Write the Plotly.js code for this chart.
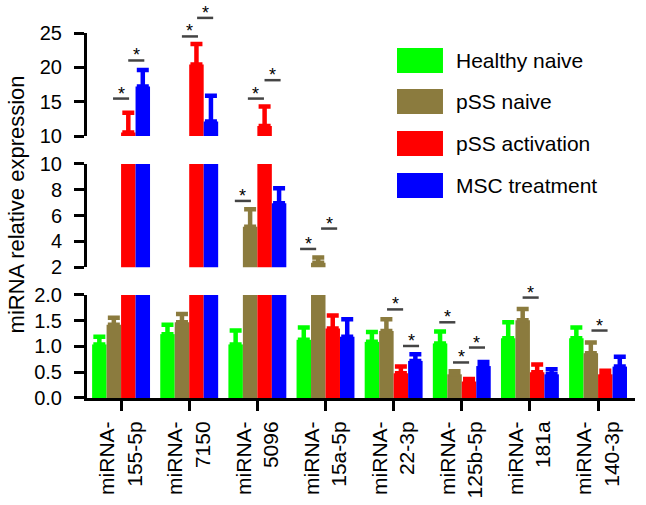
<!DOCTYPE html>
<html>
<head>
<meta charset="utf-8">
<script src="https://cdn.plot.ly/plotly-3.0.1.min.js"></script>
<style>html,body{margin:0;padding:0;background:#fff;}#chart{width:646px;height:505px;}</style>
</head>
<body>
<div id="chart"></div>
<script>
// ---- data ----
var categories = ['miRNA-<br>155-5p', 'miRNA-<br>7150', 'miRNA-<br>5096', 'miRNA-<br>15a-5p',
                  'miRNA-<br>22-3p', 'miRNA-<br>125b-5p', 'miRNA-<br>181a', 'miRNA-<br>140-3p'];
var seriesNames = ['Healthy naive', 'pSS naive', 'pSS activation', 'MSC treatment'];
var healthyNaive    = [1.04, 1.24, 1.04, 1.13, 1.09, 1.06, 1.16, 1.16];
var healthyNaiveErr = [0.15, 0.18, 0.27, 0.24, 0.19, 0.23, 0.31, 0.21];
var pssNaive        = [1.42, 1.47, 5.14, 2.35, 1.30, 0.46, 1.51, 0.87];
var pssNaiveErr     = [0.14, 0.16, 1.35, 0.40, 0.23, 0.06, 0.22, 0.21];
var pssActivation    = [10.5, 20.4, 11.46, 1.35, 0.48, 0.32, 0.50, 0.46];
var pssActivationErr = [2.9, 3.0, 2.82, 0.25, 0.13, 0.05, 0.15, 0.07];
var mscTreatment    = [17.2, 12.1, 6.96, 1.19, 0.72, 0.62, 0.46, 0.61];
var mscTreatmentErr = [2.4, 3.75, 1.16, 0.34, 0.13, 0.08, 0.10, 0.19];

// axis break segments (bottom, middle, top)
var segRanges = [[0, 2], [2, 10], [10, 25]];
var segTicks = [[0, 0.5, 1, 1.5, 2], [2, 4, 6, 8, 10], [10, 15, 20, 25]];

// significance markers: category, offset in bar widths, segment, value
var sigCat    = [0, 0, 1, 1, 2, 2, 2, 3, 3, 4, 4, 5, 5, 5, 6, 7];
var sigOffset = [0, 1.05, 0.05, 1.1, -1, -0.1, 1.05, -1.2, 0.25, 0.1, 1.2, -1, -0.05, 1.05, 0.05, 0.1];
var sigSeg    = [2, 2, 2, 2, 1, 2, 2, 1, 1, 0, 0, 0, 0, 0, 0, 0];
var sigValue  = [15.45, 21.0, 24.5, 27.2, 7.14, 15.45, 18.13, 3.42, 5.0, 1.72, 1.01, 1.47, 0.69, 0.98, 1.95, 1.31];

// ---- styles ----
var colors = ['#00ff00', '#8b7b3e', '#ff0000', '#0000ff'];
var FONT = 'Liberation Sans, Arial, Helvetica, sans-serif';
var segDomains = [[0, 0.2822], [0.3581, 0.6411], [0.7178, 1]];
var yNames = ['y', 'y2', 'y3'];
var bargap = 0.15;
var barW = (1 - bargap) / 4;

var values = [healthyNaive, pssNaive, pssActivation, mscTreatment];
var errs = [healthyNaiveErr, pssNaiveErr, pssActivationErr, mscTreatmentErr];

var traces = [];
for (var p = 0; p < 3; p++) {
  for (var s = 0; s < 4; s++) {
    traces.push({
      type: 'bar', name: seriesNames[s], x: categories, y: values[s],
      xaxis: 'x', yaxis: yNames[p], showlegend: false, hoverinfo: 'skip',
      marker: {color: colors[s], line: {width: 0}},
      error_y: {type: 'data', symmetric: false, array: errs[s],
                arrayminus: errs[s].map(function(){return 0;}),
                color: colors[s], thickness: 4.5, width: 6}
    });
  }
}

function toPaperY(seg, v) {
  var r = segRanges[seg], d = segDomains[seg];
  return d[0] + (v - r[0]) / (r[1] - r[0]) * (d[1] - d[0]);
}

var shapes = [], annotations = [];
for (var i = 0; i < sigCat.length; i++) {
  var cx = sigCat[i] + sigOffset[i] * barW;
  var py = toPaperY(sigSeg[i], sigValue[i]);
  shapes.push({type: 'line', xref: 'x', yref: 'paper', x0: cx - 0.118, x1: cx + 0.118,
               y0: py, y1: py, line: {color: '#444', width: 2.5}});
  annotations.push({xref: 'x', yref: 'paper', x: cx, y: py, text: '*', showarrow: false,
                    xanchor: 'center', yanchor: 'middle', yshift: 5,
                    font: {family: FONT, size: 18, color: '#000'}});
}

// legend (drawn manually)
var legX0 = 0.5657, legX1 = 0.6496, legTextX = 0.6697;
var legY = [0.9247, 0.8123, 0.6973, 0.5822];
var legH = 0.0685;
for (var k = 0; k < 4; k++) {
  shapes.push({type: 'rect', xref: 'paper', yref: 'paper', x0: legX0, x1: legX1,
               y0: legY[k] - legH / 2, y1: legY[k] + legH / 2,
               fillcolor: colors[k], line: {width: 0}});
  annotations.push({xref: 'paper', yref: 'paper', x: legTextX, y: legY[k], text: seriesNames[k],
                    showarrow: false, xanchor: 'left', yanchor: 'middle',
                    font: {family: FONT, size: 21, color: '#000'}});
}

annotations.push({xref: 'paper', yref: 'paper', x: -0.128, y: 0.53, text: 'miRNA relative expression',
                  textangle: -90, showarrow: false, xanchor: 'center', yanchor: 'middle',
                  font: {family: FONT, size: 22, color: '#000'}});

function yAxis(p) {
  return {
    domain: segDomains[p], range: segRanges[p], anchor: 'x',
    tickvals: segTicks[p], tickformat: p === 0 ? '.1f' : 'd',
    showline: true, linecolor: '#000', linewidth: 3,
    ticks: 'outside', ticklen: 10, tickwidth: 3, tickcolor: '#000',
    ticklabelstandoff: 8,
    tickfont: {family: FONT, size: 20, color: '#000'},
    showgrid: false, zeroline: false, fixedrange: true
  };
}

var layout = {
  width: 646, height: 505,
  margin: {l: 87, r: 11, t: 33, b: 107},
  paper_bgcolor: '#fff', plot_bgcolor: '#fff',
  barmode: 'group', bargap: bargap, bargroupgap: 0,
  font: {family: FONT, color: '#000'},
  xaxis: {
    domain: [0, 1], range: [-0.5, 7.542], anchor: 'y',
    showline: true, linecolor: '#000', linewidth: 3,
    ticks: 'outside', ticklen: 10, tickwidth: 3, tickcolor: '#000',
    tickangle: -90, ticklabelstandoff: 2,
    tickfont: {family: FONT, size: 21, color: '#000'},
    showgrid: false, zeroline: false, fixedrange: true
  },
  yaxis: yAxis(0), yaxis2: yAxis(1), yaxis3: yAxis(2),
  shapes: shapes, annotations: annotations
};

Plotly.newPlot('chart', traces, layout, {displayModeBar: false, staticPlot: true});
</script>
</body>
</html>
